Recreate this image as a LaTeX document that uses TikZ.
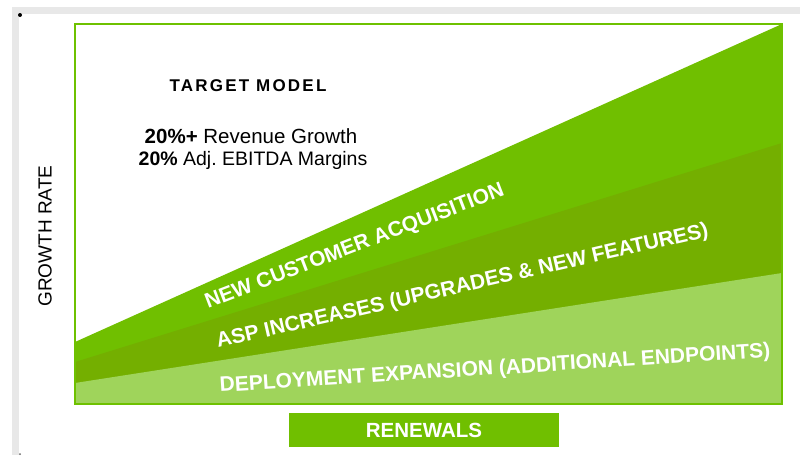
\documentclass[tikz,border=0pt]{standalone}
\usepackage{fontspec}
\setmainfont{Liberation Sans}
\begin{document}
\frenchspacing
\definecolor{frame}{HTML}{E8E8E8}
\definecolor{edge}{HTML}{6EC100}
\definecolor{bright}{HTML}{70BF00}
\definecolor{olive}{HTML}{74AF00}
\definecolor{pale}{HTML}{9FD45B}
\tikzset{
  band/.style={fill=#1, draw=none},
  bandlabel/.style={font=\bfseries\fontsize{21}{24}\selectfont, text=white, inner sep=0pt, anchor=base west},
  plain/.style={inner sep=0pt, align=center, text=black},
}
\begin{tikzpicture}[x=1pt, y=-1pt]
  \useasboundingbox (0,0) rectangle (800,455);
  % page frame strips
  \fill[frame] (12,7) rectangle (800,14);
  \fill[frame] (12,14) rectangle (19,455);
  \fill[black] (20,15) circle (2);
  \fill[black!60] (20,454) circle (1);

  % chart corners
  \coordinate (tl) at (75,24);
  \coordinate (tr) at (782,24);
  \coordinate (br) at (782,404);
  \coordinate (bl) at (75,404);
  \coordinate (g1) at (75,342);
  \coordinate (o1) at (75,362);
  \coordinate (o2) at (782,143);
  \coordinate (p1) at (75,383);
  \coordinate (p2) at (782,273);

  % stacked growth bands
  \fill[band=bright] (g1) -- (tr) -- (br) -- (bl) -- cycle;
  \fill[band=olive] (o1) -- (o2) -- (br) -- (bl) -- cycle;
  \fill[band=pale] (p1) -- (p2) -- (br) -- (bl) -- cycle;
  \draw[edge, line width=2pt] (tl) -- (tr) -- (br) -- (bl) -- cycle;

  % band labels
  \node[bandlabel, rotate=21] (ncq) at (208,309) {NEW CUSTOMER ACQUISITION};
  \node[bandlabel, rotate=12.8] (asp) at (218,348) {ASP INCREASES (UPGRADES \& NEW FEATURES)};
  \node[bandlabel, rotate=3.6] (dep) at (220,392) {DEPLOYMENT EXPANSION (ADDITIONAL ENDPOINTS)};

  % target model text
  \node[plain, font=\bfseries\fontsize{17}{20}\selectfont] (tm) at (248,86)
    {\addfontfeature{LetterSpace=13}TARGET MODEL};
  \node[plain, font=\fontsize{20.5}{22}\selectfont, anchor=base] (rev) at (251,143)
    {\textbf{20\%+} Revenue Growth};
  \node[plain, font=\fontsize{19.5}{22}\selectfont, anchor=base] (ebit) at (253,165)
    {\textbf{20\%} Adj. EBITDA Margins};

  % axis captions
  \node[plain, font=\fontsize{19}{22}\selectfont, rotate=90] (gr) at (45,236) {GROWTH RATE};
  \node[fill=bright, minimum width=270pt, minimum height=34pt, inner sep=0pt,
        text=white, font=\bfseries\fontsize{20.5}{24}\selectfont] (ren) at (424,430) {RENEWALS};
\end{tikzpicture}
\end{document}
